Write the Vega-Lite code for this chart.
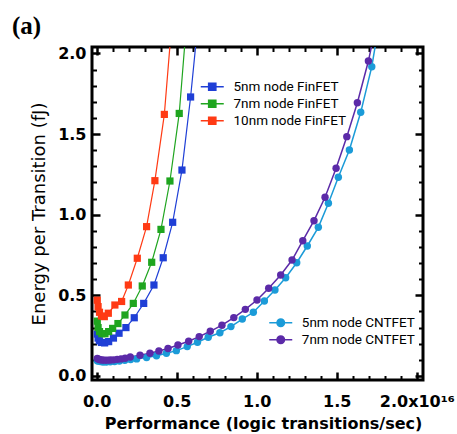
{
  "$schema": "https://vega.github.io/schema/vega-lite/v6.json",
  "width": 331,
  "height": 333,
  "autosize": {"type": "none"},
  "padding": {"left": 92, "top": 47, "right": 34, "bottom": 54},
  "background": "white",
  "title": {"text": "(a)", "anchor": "start", "frame": "group", "font": "Liberation Serif", "fontWeight": "bold", "fontSize": 25, "color": "black", "dx": -80, "offset": 6},
  "config": {
    "view": {"stroke": "black", "strokeWidth": 3},
    "axis": {"domain": false, "grid": false, "tickColor": "black", "labelColor": "black", "titleColor": "black", "labelFlush": false, "labelOverlap": false}
  },
  "data": {"values": [
    {"series": "5nm node FinFET", "device": "FinFET", "perf": 0.004, "energy": 0.26},
    {"series": "5nm node FinFET", "device": "FinFET", "perf": 0.009, "energy": 0.235},
    {"series": "5nm node FinFET", "device": "FinFET", "perf": 0.017, "energy": 0.218},
    {"series": "5nm node FinFET", "device": "FinFET", "perf": 0.03, "energy": 0.208},
    {"series": "5nm node FinFET", "device": "FinFET", "perf": 0.05, "energy": 0.205},
    {"series": "5nm node FinFET", "device": "FinFET", "perf": 0.075, "energy": 0.213},
    {"series": "5nm node FinFET", "device": "FinFET", "perf": 0.105, "energy": 0.235},
    {"series": "5nm node FinFET", "device": "FinFET", "perf": 0.14, "energy": 0.265},
    {"series": "5nm node FinFET", "device": "FinFET", "perf": 0.183, "energy": 0.3},
    {"series": "5nm node FinFET", "device": "FinFET", "perf": 0.235, "energy": 0.361},
    {"series": "5nm node FinFET", "device": "FinFET", "perf": 0.294, "energy": 0.45},
    {"series": "5nm node FinFET", "device": "FinFET", "perf": 0.358, "energy": 0.564},
    {"series": "5nm node FinFET", "device": "FinFET", "perf": 0.416, "energy": 0.733},
    {"series": "5nm node FinFET", "device": "FinFET", "perf": 0.475, "energy": 0.953},
    {"series": "5nm node FinFET", "device": "FinFET", "perf": 0.533, "energy": 1.277},
    {"series": "5nm node FinFET", "device": "FinFET", "perf": 0.587, "energy": 1.73},
    {"series": "5nm node FinFET", "device": "FinFET", "perf": 0.64, "energy": 2.26},
    {"series": "7nm node FinFET", "device": "FinFET", "perf": 0.004, "energy": 0.34},
    {"series": "7nm node FinFET", "device": "FinFET", "perf": 0.009, "energy": 0.3},
    {"series": "7nm node FinFET", "device": "FinFET", "perf": 0.018, "energy": 0.275},
    {"series": "7nm node FinFET", "device": "FinFET", "perf": 0.032, "energy": 0.262},
    {"series": "7nm node FinFET", "device": "FinFET", "perf": 0.052, "energy": 0.262},
    {"series": "7nm node FinFET", "device": "FinFET", "perf": 0.075, "energy": 0.275},
    {"series": "7nm node FinFET", "device": "FinFET", "perf": 0.1, "energy": 0.295},
    {"series": "7nm node FinFET", "device": "FinFET", "perf": 0.133, "energy": 0.325},
    {"series": "7nm node FinFET", "device": "FinFET", "perf": 0.177, "energy": 0.378},
    {"series": "7nm node FinFET", "device": "FinFET", "perf": 0.229, "energy": 0.45},
    {"series": "7nm node FinFET", "device": "FinFET", "perf": 0.285, "energy": 0.558},
    {"series": "7nm node FinFET", "device": "FinFET", "perf": 0.344, "energy": 0.705},
    {"series": "7nm node FinFET", "device": "FinFET", "perf": 0.402, "energy": 0.909},
    {"series": "7nm node FinFET", "device": "FinFET", "perf": 0.458, "energy": 1.209},
    {"series": "7nm node FinFET", "device": "FinFET", "perf": 0.516, "energy": 1.628},
    {"series": "7nm node FinFET", "device": "FinFET", "perf": 0.572, "energy": 2.32},
    {"series": "10nm node FinFET", "device": "FinFET", "perf": 0.004, "energy": 0.47},
    {"series": "10nm node FinFET", "device": "FinFET", "perf": 0.009, "energy": 0.43},
    {"series": "10nm node FinFET", "device": "FinFET", "perf": 0.018, "energy": 0.395},
    {"series": "10nm node FinFET", "device": "FinFET", "perf": 0.03, "energy": 0.372},
    {"series": "10nm node FinFET", "device": "FinFET", "perf": 0.048, "energy": 0.368},
    {"series": "10nm node FinFET", "device": "FinFET", "perf": 0.073, "energy": 0.389},
    {"series": "10nm node FinFET", "device": "FinFET", "perf": 0.114, "energy": 0.44},
    {"series": "10nm node FinFET", "device": "FinFET", "perf": 0.156, "energy": 0.462},
    {"series": "10nm node FinFET", "device": "FinFET", "perf": 0.198, "energy": 0.564},
    {"series": "10nm node FinFET", "device": "FinFET", "perf": 0.254, "energy": 0.73},
    {"series": "10nm node FinFET", "device": "FinFET", "perf": 0.312, "energy": 0.926},
    {"series": "10nm node FinFET", "device": "FinFET", "perf": 0.364, "energy": 1.211},
    {"series": "10nm node FinFET", "device": "FinFET", "perf": 0.423, "energy": 1.622},
    {"series": "10nm node FinFET", "device": "FinFET", "perf": 0.482, "energy": 2.34},
    {"series": "5nm node CNTFET", "device": "CNTFET", "perf": 0.004, "energy": 0.095},
    {"series": "5nm node CNTFET", "device": "CNTFET", "perf": 0.012, "energy": 0.092},
    {"series": "5nm node CNTFET", "device": "CNTFET", "perf": 0.024, "energy": 0.089},
    {"series": "5nm node CNTFET", "device": "CNTFET", "perf": 0.04, "energy": 0.087},
    {"series": "5nm node CNTFET", "device": "CNTFET", "perf": 0.06, "energy": 0.087},
    {"series": "5nm node CNTFET", "device": "CNTFET", "perf": 0.085, "energy": 0.088},
    {"series": "5nm node CNTFET", "device": "CNTFET", "perf": 0.112, "energy": 0.09},
    {"series": "5nm node CNTFET", "device": "CNTFET", "perf": 0.142, "energy": 0.093},
    {"series": "5nm node CNTFET", "device": "CNTFET", "perf": 0.176, "energy": 0.097},
    {"series": "5nm node CNTFET", "device": "CNTFET", "perf": 0.212, "energy": 0.102},
    {"series": "5nm node CNTFET", "device": "CNTFET", "perf": 0.25, "energy": 0.106},
    {"series": "5nm node CNTFET", "device": "CNTFET", "perf": 0.312, "energy": 0.114},
    {"series": "5nm node CNTFET", "device": "CNTFET", "perf": 0.374, "energy": 0.125},
    {"series": "5nm node CNTFET", "device": "CNTFET", "perf": 0.436, "energy": 0.141},
    {"series": "5nm node CNTFET", "device": "CNTFET", "perf": 0.498, "energy": 0.157},
    {"series": "5nm node CNTFET", "device": "CNTFET", "perf": 0.566, "energy": 0.182},
    {"series": "5nm node CNTFET", "device": "CNTFET", "perf": 0.63, "energy": 0.209},
    {"series": "5nm node CNTFET", "device": "CNTFET", "perf": 0.697, "energy": 0.24},
    {"series": "5nm node CNTFET", "device": "CNTFET", "perf": 0.77, "energy": 0.268},
    {"series": "5nm node CNTFET", "device": "CNTFET", "perf": 0.839, "energy": 0.306},
    {"series": "5nm node CNTFET", "device": "CNTFET", "perf": 0.91, "energy": 0.353},
    {"series": "5nm node CNTFET", "device": "CNTFET", "perf": 0.979, "energy": 0.395},
    {"series": "5nm node CNTFET", "device": "CNTFET", "perf": 1.048, "energy": 0.465},
    {"series": "5nm node CNTFET", "device": "CNTFET", "perf": 1.114, "energy": 0.533},
    {"series": "5nm node CNTFET", "device": "CNTFET", "perf": 1.181, "energy": 0.609},
    {"series": "5nm node CNTFET", "device": "CNTFET", "perf": 1.25, "energy": 0.702},
    {"series": "5nm node CNTFET", "device": "CNTFET", "perf": 1.316, "energy": 0.806},
    {"series": "5nm node CNTFET", "device": "CNTFET", "perf": 1.385, "energy": 0.922},
    {"series": "5nm node CNTFET", "device": "CNTFET", "perf": 1.448, "energy": 1.071},
    {"series": "5nm node CNTFET", "device": "CNTFET", "perf": 1.51, "energy": 1.232},
    {"series": "5nm node CNTFET", "device": "CNTFET", "perf": 1.579, "energy": 1.401},
    {"series": "5nm node CNTFET", "device": "CNTFET", "perf": 1.65, "energy": 1.635},
    {"series": "5nm node CNTFET", "device": "CNTFET", "perf": 1.719, "energy": 1.918},
    {"series": "5nm node CNTFET", "device": "CNTFET", "perf": 1.78, "energy": 2.28},
    {"series": "7nm node CNTFET", "device": "CNTFET", "perf": 0.004, "energy": 0.108},
    {"series": "7nm node CNTFET", "device": "CNTFET", "perf": 0.012, "energy": 0.104},
    {"series": "7nm node CNTFET", "device": "CNTFET", "perf": 0.022, "energy": 0.101},
    {"series": "7nm node CNTFET", "device": "CNTFET", "perf": 0.035, "energy": 0.099},
    {"series": "7nm node CNTFET", "device": "CNTFET", "perf": 0.05, "energy": 0.098},
    {"series": "7nm node CNTFET", "device": "CNTFET", "perf": 0.066, "energy": 0.098},
    {"series": "7nm node CNTFET", "device": "CNTFET", "perf": 0.085, "energy": 0.099},
    {"series": "7nm node CNTFET", "device": "CNTFET", "perf": 0.105, "energy": 0.1},
    {"series": "7nm node CNTFET", "device": "CNTFET", "perf": 0.128, "energy": 0.103},
    {"series": "7nm node CNTFET", "device": "CNTFET", "perf": 0.152, "energy": 0.106},
    {"series": "7nm node CNTFET", "device": "CNTFET", "perf": 0.178, "energy": 0.11},
    {"series": "7nm node CNTFET", "device": "CNTFET", "perf": 0.21, "energy": 0.118},
    {"series": "7nm node CNTFET", "device": "CNTFET", "perf": 0.271, "energy": 0.128},
    {"series": "7nm node CNTFET", "device": "CNTFET", "perf": 0.333, "energy": 0.141},
    {"series": "7nm node CNTFET", "device": "CNTFET", "perf": 0.389, "energy": 0.155},
    {"series": "7nm node CNTFET", "device": "CNTFET", "perf": 0.446, "energy": 0.17},
    {"series": "7nm node CNTFET", "device": "CNTFET", "perf": 0.508, "energy": 0.192},
    {"series": "7nm node CNTFET", "device": "CNTFET", "perf": 0.575, "energy": 0.215},
    {"series": "7nm node CNTFET", "device": "CNTFET", "perf": 0.641, "energy": 0.244},
    {"series": "7nm node CNTFET", "device": "CNTFET", "perf": 0.71, "energy": 0.277},
    {"series": "7nm node CNTFET", "device": "CNTFET", "perf": 0.783, "energy": 0.315},
    {"series": "7nm node CNTFET", "device": "CNTFET", "perf": 0.857, "energy": 0.362},
    {"series": "7nm node CNTFET", "device": "CNTFET", "perf": 0.929, "energy": 0.413},
    {"series": "7nm node CNTFET", "device": "CNTFET", "perf": 1.002, "energy": 0.471},
    {"series": "7nm node CNTFET", "device": "CNTFET", "perf": 1.075, "energy": 0.544},
    {"series": "7nm node CNTFET", "device": "CNTFET", "perf": 1.15, "energy": 0.626},
    {"series": "7nm node CNTFET", "device": "CNTFET", "perf": 1.221, "energy": 0.719},
    {"series": "7nm node CNTFET", "device": "CNTFET", "perf": 1.288, "energy": 0.839},
    {"series": "7nm node CNTFET", "device": "CNTFET", "perf": 1.358, "energy": 0.963},
    {"series": "7nm node CNTFET", "device": "CNTFET", "perf": 1.427, "energy": 1.108},
    {"series": "7nm node CNTFET", "device": "CNTFET", "perf": 1.496, "energy": 1.288},
    {"series": "7nm node CNTFET", "device": "CNTFET", "perf": 1.563, "energy": 1.484},
    {"series": "7nm node CNTFET", "device": "CNTFET", "perf": 1.629, "energy": 1.694},
    {"series": "7nm node CNTFET", "device": "CNTFET", "perf": 1.698, "energy": 1.953},
    {"series": "7nm node CNTFET", "device": "CNTFET", "perf": 1.765, "energy": 2.27}
  ]},
  "resolve": {"scale": {"color": "independent"}, "axis": {"x": "independent", "y": "independent"}},
  "layer": [
    {
      "transform": [{"filter": "datum.device === 'FinFET'"}],
      "encoding": {
        "x": {"field": "perf", "type": "quantitative", "scale": {"domain": [-0.029, 2.039], "nice": false, "zero": false}, "axis": null},
        "y": {"field": "energy", "type": "quantitative", "scale": {"domain": [-0.025, 2.04], "nice": false, "zero": false}, "axis": null},
        "color": {
          "field": "series", "type": "nominal",
          "scale": {"domain": ["5nm node FinFET", "7nm node FinFET", "10nm node FinFET"], "range": ["#1f3fd6", "#1fa51f", "#ff3a14"]},
          "legend": {
            "orient": "none", "legendX": 113.5, "legendY": 33, "title": null, "padding": 0,
            "symbolType": "M -2.3 0 H 2.3 M -0.72 -0.72 H 0.72 V 0.72 H -0.72 Z",
            "symbolSize": 100, "symbolStrokeWidth": 1.5,
            "labelFont": "Roboto", "labelFontSize": 13.5, "labelColor": "black", "labelOffset": 14.5, "rowPadding": 2
          }
        }
      },
      "layer": [
        {"mark": {"type": "line", "strokeWidth": 1.2, "clip": true}},
        {"mark": {"type": "point", "shape": "square", "size": 52, "filled": true, "opacity": 1, "clip": true}}
      ]
    },
    {
      "transform": [{"filter": "datum.device === 'CNTFET'"}],
      "encoding": {
        "x": {"field": "perf", "type": "quantitative", "scale": {"domain": [-0.029, 2.039], "nice": false, "zero": false}, "axis": null},
        "y": {"field": "energy", "type": "quantitative", "scale": {"domain": [-0.025, 2.04], "nice": false, "zero": false}, "axis": null},
        "color": {
          "field": "series", "type": "nominal",
          "scale": {"domain": ["5nm node CNTFET", "7nm node CNTFET"], "range": ["#1b9bd8", "#5b2aa8"]},
          "legend": {
            "orient": "none", "legendX": 182, "legendY": 269, "title": null, "padding": 0,
            "symbolType": "M -2.3 0 H 2.3 M -0.75 0 A 0.75 0.75 0 1 0 0.75 0 A 0.75 0.75 0 1 0 -0.75 0 Z",
            "symbolSize": 100, "symbolStrokeWidth": 1.5,
            "labelFont": "Roboto", "labelFontSize": 13.5, "labelColor": "black", "labelOffset": 14.3, "rowPadding": 2
          }
        }
      },
      "layer": [
        {"mark": {"type": "line", "strokeWidth": 1.5, "clip": true}},
        {"mark": {"type": "point", "shape": "circle", "size": 55, "filled": true, "opacity": 1, "clip": true}}
      ]
    },
    {
      "mark": {"type": "point", "opacity": 0, "clip": true},
      "encoding": {
        "x": {"field": "perf", "type": "quantitative", "scale": {"domain": [-0.029, 2.039], "nice": false, "zero": false},
          "axis": {"orient": "bottom", "values": [0, 0.5, 1, 1.5, 2], "tickSize": -8, "tickWidth": 2.5,
            "labelFont": "DejaVu Sans", "labelFontWeight": "bold", "labelFontSize": 16, "labelPadding": 21,
            "labelExpr": "datum.value == 2 ? '2.0x10¹⁶' : format(datum.value, '.1f')",
            "title": "Performance (logic transitions/sec)", "titleFont": "DejaVu Sans", "titleFontWeight": "bold", "titleFontSize": 16,
            "titleX": 171, "titleY": 48, "titleBaseline": "alphabetic"}},
        "y": {"field": "energy", "type": "quantitative", "scale": {"domain": [-0.025, 2.04], "nice": false, "zero": false},
          "axis": {"orient": "left", "values": [0, 0.5, 1, 1.5, 2], "tickSize": -8, "tickWidth": 2.5,
            "labelFont": "DejaVu Sans", "labelFontWeight": "bold", "labelFontSize": 16, "labelPadding": 14,
            "labelExpr": "format(datum.value, '.1f')",
            "title": "Energy per Transition (fJ)", "titleFont": "DejaVu Sans", "titleFontWeight": "normal", "titleFontSize": 18,
            "titleX": -48, "titleY": 166.5, "titleBaseline": "alphabetic", "titleAngle": -90}}
      }
    },
    {
      "mark": {"type": "point", "opacity": 0, "clip": true},
      "encoding": {
        "x": {"field": "perf", "type": "quantitative", "scale": {"domain": [-0.029, 2.039], "nice": false, "zero": false},
          "axis": {"orient": "top", "values": [0, 0.5, 1, 1.5, 2], "tickSize": -8, "tickWidth": 2.5, "labels": false, "title": null}},
        "y": {"field": "energy", "type": "quantitative", "scale": {"domain": [-0.025, 2.04], "nice": false, "zero": false},
          "axis": {"orient": "right", "values": [0, 0.5, 1, 1.5, 2], "tickSize": -8, "tickWidth": 2.5, "labels": false, "title": null}}
      }
    },
    {
      "mark": {"type": "point", "opacity": 0, "clip": true},
      "encoding": {
        "x": {"field": "perf", "type": "quantitative", "scale": {"domain": [-0.029, 2.039], "nice": false, "zero": false},
          "axis": {"orient": "bottom", "values": [0.1, 0.2, 0.3, 0.4, 0.6, 0.7, 0.8, 0.9, 1.1, 1.2, 1.3, 1.4, 1.6, 1.7, 1.8, 1.9], "tickSize": -4.5, "tickWidth": 2, "labels": false, "title": null}},
        "y": {"field": "energy", "type": "quantitative", "scale": {"domain": [-0.025, 2.04], "nice": false, "zero": false},
          "axis": {"orient": "left", "values": [0.1, 0.2, 0.3, 0.4, 0.6, 0.7, 0.8, 0.9, 1.1, 1.2, 1.3, 1.4, 1.6, 1.7, 1.8, 1.9], "tickSize": -4.5, "tickWidth": 2, "labels": false, "title": null}}
      }
    },
    {
      "mark": {"type": "point", "opacity": 0, "clip": true},
      "encoding": {
        "x": {"field": "perf", "type": "quantitative", "scale": {"domain": [-0.029, 2.039], "nice": false, "zero": false},
          "axis": {"orient": "top", "values": [0.1, 0.2, 0.3, 0.4, 0.6, 0.7, 0.8, 0.9, 1.1, 1.2, 1.3, 1.4, 1.6, 1.7, 1.8, 1.9], "tickSize": -4.5, "tickWidth": 2, "labels": false, "title": null}},
        "y": {"field": "energy", "type": "quantitative", "scale": {"domain": [-0.025, 2.04], "nice": false, "zero": false},
          "axis": {"orient": "right", "values": [0.1, 0.2, 0.3, 0.4, 0.6, 0.7, 0.8, 0.9, 1.1, 1.2, 1.3, 1.4, 1.6, 1.7, 1.8, 1.9], "tickSize": -4.5, "tickWidth": 2, "labels": false, "title": null}}
      }
    }
  ]
}
